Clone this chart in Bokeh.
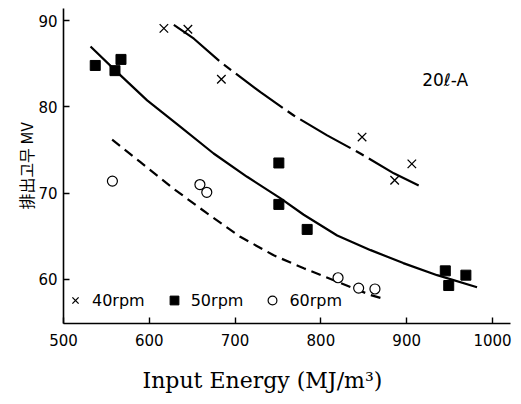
from bokeh.plotting import figure
from bokeh.models import FixedTicker, Title
from bokeh.core.properties import value
from bokeh.embed import file_html
from bokeh.resources import INLINE

# --- data ---
x_ticks = [500, 600, 700, 800, 900, 1000]
y_ticks = [60, 70, 80, 90]

x40 = [617, 645, 684, 848, 886, 906]
y40 = [89.1, 89.0, 83.2, 76.5, 71.5, 73.4]

x50 = [537, 560, 567, 751, 751, 784, 945, 949, 969]
y50 = [84.8, 84.2, 85.5, 73.5, 68.7, 65.8, 61.0, 59.3, 60.5]

x60 = [557, 659, 667, 820, 844, 863]
y60 = [71.4, 71.0, 70.1, 60.2, 59.0, 58.9]

cx40 = [628.6, 652, 683, 729.6, 768.4, 807.3, 846, 885, 914]
cy40 = [89.5, 87.9, 85.2, 81.7, 79.0, 76.7, 74.6, 72.3, 70.9]

cx50 = [531.5, 560.6, 597.5, 636, 675, 714, 753, 780, 819, 858, 896, 935.5, 982]
cy50 = [87.0, 84.2, 80.75, 77.7, 74.6, 71.9, 69.4, 67.5, 65.1, 63.4, 61.9, 60.5, 59.1]

cx60 = [556.7, 589.7, 628.6, 667.5, 706, 745, 780, 819, 858, 875]
cy60 = [76.2, 73.6, 70.5, 67.65, 64.95, 62.8, 61.3, 59.75, 58.2, 57.7]

note_x = [918]
note_y = [83.1]
note_text = ["20ℓ-A"]

p = figure(width=513, height=396, x_range=(500, 1021), y_range=(54.9, 91.4),
           output_backend="svg", toolbar_location=None,
           min_border_left=63, min_border_right=3, min_border_top=8, min_border_bottom=73)
p.outline_line_color = None
p.grid.visible = False
p.background_fill_color = "white"

for ax in (p.xaxis, p.yaxis):
    ax.axis_line_width = 1.6
    ax.axis_line_color = "black"
    ax.major_tick_in = 6
    ax.major_tick_out = 0
    ax.major_tick_line_width = 1.4
    ax.major_tick_line_color = "black"
    ax.minor_tick_line_color = None
    ax.major_label_text_font = "DejaVu Sans"
    ax.major_label_text_font_size = "15px"
    ax.major_label_text_color = "black"

p.xaxis.ticker = FixedTicker(ticks=x_ticks)
p.yaxis.ticker = FixedTicker(ticks=y_ticks)
p.xaxis.major_label_standoff = 10
p.yaxis.major_label_standoff = 6

p.yaxis.axis_label = "排出고무 MV"
p.yaxis.axis_label_text_font = "Noto Sans CJK KR"
p.yaxis.axis_label_text_font_size = "16px"
p.yaxis.axis_label_text_font_style = "normal"
p.yaxis.axis_label_standoff = -3
p.yaxis.axis_label_text_color = "black"

xt = Title(text="Input Energy (MJ/m³)", align="left", offset=79, standoff=0,
           vertical_align="bottom", padding=dict(top=17, bottom=0, left=0, right=0),
           text_font="DejaVu Serif", text_font_size="22px", text_font_style="normal",
           text_color="black")
p.add_layout(xt, "below")

# fitted curves
p.line(cx40, cy40, line_color="black", line_width=2.2, line_dash="58 6 9 6")
p.line(cx50, cy50, line_color="black", line_width=2.2)
p.line(cx60, cy60, line_color="black", line_width=2.2, line_dash="10 6")

# points
p.scatter(x40, y40, marker="x", size=12, line_color="black", line_width=1.3, legend_label="40rpm")
p.scatter(x50, y50, marker="square", size=10, fill_color="black", line_color="black", legend_label="50rpm")
p.scatter(x60, y60, marker="circle", size=10, fill_color="white", line_color="black",
          line_width=1.2, legend_label="60rpm")

p.text(x=note_x, y=note_y, text=note_text, text_font=value("DejaVu Sans"),
       text_font_size="17px", text_baseline="middle", text_align="left", text_color="black")

lg = p.legend[0]
lg.orientation = "horizontal"
lg.location = (1, 12)
lg.border_line_color = None
lg.background_fill_alpha = 0
lg.padding = 0
lg.margin = 0
lg.spacing = 18
lg.glyph_width = 22
lg.glyph_height = 22
lg.label_standoff = 6
lg.label_text_font = "DejaVu Sans"
lg.label_text_font_size = "16px"
lg.label_text_color = "black"

open("out.html", "w").write(file_html(p, INLINE))
